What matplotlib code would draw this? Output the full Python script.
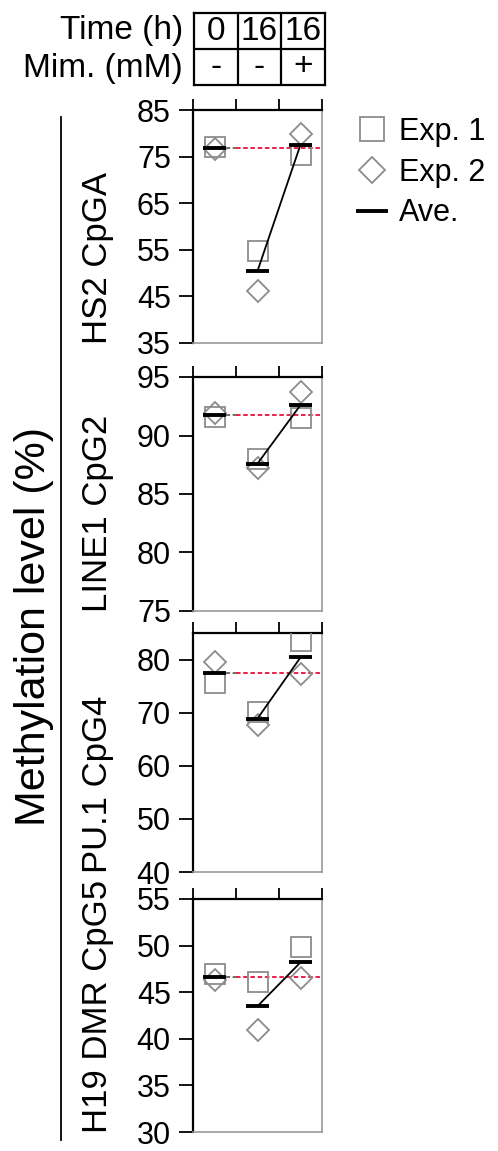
import matplotlib
matplotlib.use("Agg")
import matplotlib.pyplot as plt
from matplotlib.lines import Line2D
import numpy as np

plt.rcParams['font.family'] = ['Liberation Sans', 'DejaVu Sans']

# Conditions (columns)
time_h = ["0", "16", "16"]
mimosine = ["-", "-", "+"]

# Methylation level (%) per CpG site, two experiments
sites = ["HS2 CpGA", "LINE1 CpG2", "PU.1 CpG4", "H19 DMR CpG5"]
hs2_exp1 = [77.0, 54.7, 75.3]
hs2_exp2 = [76.6, 46.2, 79.8]
line1_exp1 = [91.6, 88.0, 91.5]
line1_exp2 = [91.9, 87.2, 93.7]
pu1_exp1 = [75.5, 70.1, 83.5]
pu1_exp2 = [79.6, 67.7, 77.3]
h19_exp1 = [47.0, 46.1, 49.9]
h19_exp2 = [46.3, 40.9, 46.5]

# Axis ranges and ticks per panel
ylims = [(35, 85), (75, 95), (40, 85), (30, 55)]
yticks = [[35, 45, 55, 65, 75, 85], [75, 80, 85, 90, 95],
          [40, 50, 60, 70, 80], [30, 35, 40, 45, 50, 55]]

exp1 = [hs2_exp1, line1_exp1, pu1_exp1, h19_exp1]
exp2 = [hs2_exp2, line1_exp2, pu1_exp2, h19_exp2]

W, H = 498, 1151
fig = plt.figure(figsize=(W / 100, H / 100), dpi=100)
fig.patch.set_facecolor("white")

GREY = "#8c8c8c"
FS_TICK = 22
FS_HEAD = 24
FS_SITE = 25


def px_axes(left, top, right, bottom):
    return fig.add_axes([left / W, 1 - bottom / H, (right - left) / W, (bottom - top) / H])


# panel boxes in pixels: (left, top, right, bottom)
boxes = [(193, 110, 322, 343), (193, 377, 322, 611),
         (193, 633, 322, 872), (193, 899, 322, 1132)]

x = np.array([1, 2, 3])
for i, (box, e1, e2) in enumerate(zip(boxes, exp1, exp2)):
    ax = px_axes(*box)
    e1 = np.array(e1)
    e2 = np.array(e2)
    ave = (e1 + e2) / 2
    ax.set_xlim(0.5, 3.5)
    ax.set_ylim(*ylims[i])
    ax.set_yticks(yticks[i])
    ax.set_yticklabels([str(t) for t in yticks[i]], fontsize=FS_TICK)

    # reference level of the untreated 0 h average
    ax.plot([1.27, 1.5], [ave[0], ave[0]], ls=(0, (2.5, 1.5)), color="#555555", lw=1.2, zorder=2)
    ax.plot([1.5, 3.45], [ave[0], ave[0]], ls=(0, (2.5, 1.5)), color="#e6103a", lw=1.3, zorder=2)

    ax.plot(x, e1, ls="none", marker="s", ms=14.4, mfc="none", mec=GREY, mew=1.3, zorder=3)
    ax.plot(x, e2, ls="none", marker="D", ms=11.0, mfc="none", mec=GREY, mew=1.3, zorder=3)
    ax.hlines(ave, x - 0.27, x + 0.27, color="black", lw=2.8, zorder=4)
    ax.plot(x[1:], ave[1:], color="black", lw=1.3, zorder=4)

    ax.xaxis.set_ticks_position("top")
    ax.set_xticks([0.5, 1.5, 2.5, 3.5])
    ax.set_xticklabels([])
    ax.tick_params(axis="x", direction="out", length=8, width=1.3, color="black")
    ax.tick_params(axis="y", direction="out", length=10, width=1.3, pad=6)
    for s in ("left", "top"):
        ax.spines[s].set_color("black")
        ax.spines[s].set_linewidth(1.6)
    for s in ("right", "bottom"):
        ax.spines[s].set_color("#999999")
        ax.spines[s].set_linewidth(1.2)

    # site label
    fig.text(97 / W, 1 - (box[3] + 1) / H, sites[i], rotation=90,
             ha="center", va="bottom", fontsize=FS_SITE)

# header table
hx = px_axes(194, 13, 325, 85)
hx.set_xlim(0.5, 3.5)
hx.set_ylim(0, 2)
hx.set_xticks([])
hx.set_yticks([])
for s in hx.spines.values():
    s.set_linewidth(1.6)
hx.axhline(1, color="black", lw=1.6)
for b in (1.5, 2.5):
    hx.axvline(b, color="black", lw=1.6)
for j in range(3):
    hx.text(j + 1, 1.5, time_h[j], ha="center", va="center", fontsize=FS_HEAD)
    hx.text(j + 1, 0.5, mimosine[j], ha="center", va="center", fontsize=FS_HEAD)
fig.text(183 / W, 1 - 31 / H, "Time (h)", ha="right", va="center", fontsize=FS_HEAD)
fig.text(183 / W, 1 - 68 / H, "Mim. (mM)", ha="right", va="center", fontsize=FS_HEAD)

# common y label with bracket line
fig.text(34 / W, 1 - 626 / H, "Methylation level (%)", rotation=90,
         ha="center", va="center", fontsize=31)
fig.add_artist(Line2D([61 / W, 61 / W], [1 - 117 / H, 1 - 1140 / H],
                      transform=fig.transFigure, color="black", lw=1.3))

# legend
handles = [
    Line2D([], [], ls="none", marker="s", ms=17, mfc="none", mec=GREY, mew=1.3),
    Line2D([], [], ls="none", marker="D", ms=13, mfc="none", mec=GREY, mew=1.3),
    Line2D([], [], color="black", lw=2.8),
]
fig.legend(handles, ["Exp. 1", "Exp. 2", "Ave."], loc="upper left",
           bbox_to_anchor=(358 / W, 1 - 117 / H), frameon=False,
           fontsize=22, handlelength=0.9, handletextpad=0.45,
           labelspacing=0.35, borderpad=0, borderaxespad=0)

fig.savefig("out.png", dpi=100, facecolor="white")
